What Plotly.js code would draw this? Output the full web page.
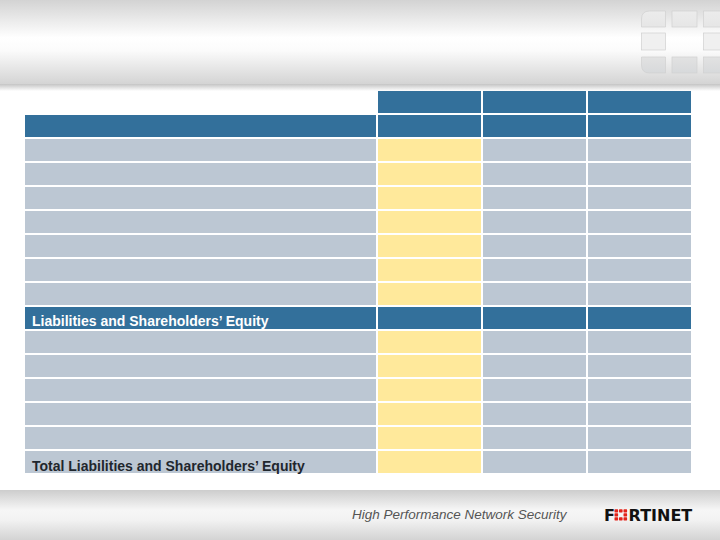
<!DOCTYPE html>
<html>
<head>
<meta charset="utf-8">
<script src="https://cdn.plot.ly/plotly-3.0.1.min.js"></script>
<style>
  html, body { margin: 0; padding: 0; background: #ffffff; }
  #chart { width: 720px; height: 540px; }
</style>
</head>
<body>
<div id="chart"></div>
<script>
// ---- data ----
const columnLabels = ['', '', '', ''];
const rowLabels = [
  '', '', '', '', '', '', '', '', '',
  'Liabilities and Shareholders’ Equity',
  '', '', '', '', '',
  'Total Liabilities and Shareholders’ Equity'
];
// row kinds: 'top' = column header row, 'section' = dark band, 'body' = regular row
const rowKinds = ['top', 'section', 'body', 'body', 'body', 'body', 'body', 'body', 'body',
  'section', 'body', 'body', 'body', 'body', 'body', 'body'];
const highlightColumn = 1;   // yellow column
const footerText = 'High Performance Network Security';

// ---- styles / sizes ----
const BLUE = '#33709b';
const GRAY = '#bcc7d3';
const YELLOW = '#ffe99b';
const colWidths = [353, 105, 105, 105];
const W = 720, H = 540;
const px = x => x / W;
const py = y => 1 - y / H;

// cell class codes: 0 blue, 1 gray, 2 yellow, null empty
const zRows = rowKinds.map(k => columnLabels.map((_, c) => {
  if (k === 'top') return c === 0 ? null : 0;
  if (k === 'section') return 0;
  return c === highlightColumn ? 2 : 1;
}));
const xEdges = [0];
colWidths.forEach(w => xEdges.push(xEdges[xEdges.length - 1] + w));
const yIdx = rowKinds.map((_, i) => i);

const bgSvg = `<svg xmlns="http://www.w3.org/2000/svg" width="720" height="540" viewBox="0 0 720 540">
<defs>
<linearGradient id="hg" x1="0" y1="0" x2="0" y2="1">
<stop offset="0" stop-color="#d3d3d3"/>
<stop offset="0.45" stop-color="#ffffff"/>
<stop offset="0.6" stop-color="#fbfbfb"/>
<stop offset="1" stop-color="#d4d4d4"/>
</linearGradient>
<linearGradient id="sh" x1="0" y1="0" x2="0" y2="1">
<stop offset="0" stop-color="#c4c4c4"/>
<stop offset="1" stop-color="#ffffff"/>
</linearGradient>
<linearGradient id="fg" x1="0" y1="0" x2="0" y2="1">
<stop offset="0" stop-color="#cdcdcd"/>
<stop offset="0.4" stop-color="#f6f6f6"/>
<stop offset="0.6" stop-color="#f2f2f2"/>
<stop offset="1" stop-color="#d3d3d3"/>
</linearGradient>
<linearGradient id="bx" x1="0" y1="0" x2="0" y2="1">
<stop offset="0" stop-color="#ececec"/>
<stop offset="1" stop-color="#e6e6e6"/>
</linearGradient>
<linearGradient id="bx2" x1="0" y1="0" x2="0" y2="1">
<stop offset="0" stop-color="#e2e2e2"/>
<stop offset="1" stop-color="#d7d9db"/>
</linearGradient>
</defs>
<rect x="0" y="0" width="720" height="84" fill="url(#hg)"/>
<rect x="0" y="84" width="720" height="7" fill="url(#sh)"/>
<g stroke="#d0d0d0" stroke-width="0.7">
<path d="M641.5 27 L641.5 19 Q641.5 11 649.5 11 L665.5 11 L665.5 27 Z" fill="url(#bx)"/>
<rect x="672" y="11" width="25" height="16" fill="url(#bx)"/>
<rect x="703.5" y="11" width="20" height="16" fill="url(#bx)"/>
<rect x="641.5" y="33" width="24" height="17" fill="#f0f0f0"/>
<rect x="703.5" y="33" width="20" height="17" fill="#f0f0f0"/>
<path d="M641.5 57 L665.5 57 L665.5 73 L649.5 73 Q641.5 73 641.5 65 Z" fill="url(#bx2)"/>
<rect x="672" y="57" width="25" height="16" fill="url(#bx2)"/>
<rect x="703.5" y="57" width="20" height="16" fill="url(#bx2)"/>
</g>
<rect x="0" y="490" width="720" height="50" fill="url(#fg)"/>
<g fill="#e2231a">
<rect x="614.5" y="509.3" width="3.6" height="3.1" rx="0.6"/>
<rect x="619" y="509.3" width="3.6" height="3.1" rx="0.6"/>
<rect x="623.5" y="509.3" width="3.6" height="3.1" rx="0.6"/>
<rect x="614.5" y="513.3" width="3.6" height="3.1" rx="0.6"/>
<rect x="623.5" y="513.3" width="3.6" height="3.1" rx="0.6"/>
<rect x="614.5" y="517.3" width="3.6" height="3.1" rx="0.6"/>
<rect x="619" y="517.3" width="3.6" height="3.1" rx="0.6"/>
<rect x="623.5" y="517.3" width="3.6" height="3.1" rx="0.6"/>
</g>
</svg>`;
const bgUri = 'data:image/svg+xml;charset=utf-8,' + encodeURIComponent(bgSvg);

const trace = {
  type: 'heatmap',
  x: xEdges,
  y: yIdx,
  z: zRows,
  zmin: 0, zmax: 2,
  colorscale: [[0, BLUE], [0.25, BLUE], [0.25, GRAY], [0.75, GRAY], [0.75, YELLOW], [1, YELLOW]],
  showscale: false,
  xgap: 2, ygap: 2,
  hoverinfo: 'skip'
};

const labelAnnotations = rowLabels.map((t, i) => t ? {
  text: '<b>' + t + '</b>', xref: 'x', yref: 'y', x: 6, y: i + (rowKinds[i] === 'section' ? 0.14 : 0.18),
  xanchor: 'left', yanchor: 'middle', showarrow: false,
  font: { family: 'Liberation Sans, Arial, sans-serif', size: 14,
          color: rowKinds[i] === 'section' ? '#ffffff' : '#1f262d' }
} : null).filter(Boolean);

const layout = {
  width: W, height: H,
  margin: { l: 0, r: 0, t: 0, b: 0 },
  paper_bgcolor: '#ffffff',
  plot_bgcolor: 'rgba(0,0,0,0)',
  showlegend: false,
  xaxis: { domain: [px(24), px(692)], range: [0, xEdges[xEdges.length - 1]], visible: false, fixedrange: true },
  yaxis: { domain: [py(474), py(90)], range: [rowKinds.length - 0.5, -0.5], visible: false, fixedrange: true },
  images: [{
    source: bgUri, xref: 'paper', yref: 'paper', x: 0, y: 1,
    sizex: 1, sizey: 1, xanchor: 'left', yanchor: 'top', sizing: 'stretch', layer: 'below'
  }],
  annotations: labelAnnotations.concat([
    {
      text: footerText, xref: 'paper', yref: 'paper', x: px(350), y: py(514),
      xanchor: 'left', yanchor: 'middle', showarrow: false,
      font: { family: 'Liberation Sans, Arial, sans-serif', size: 13.5, color: '#555555', style: 'italic' }
    },
    {
      text: '<b>F<span style="color:rgba(0,0,0,0)">O</span>RTINET</b>', xref: 'paper', yref: 'paper', x: px(602), y: py(515),
      xanchor: 'left', yanchor: 'middle', showarrow: false,
      font: { family: 'DejaVu Sans, sans-serif', size: 16, color: '#111111' }
    }
  ])
};

Plotly.newPlot('chart', [trace], layout, { displayModeBar: false, staticPlot: true });
</script>
</body>
</html>
